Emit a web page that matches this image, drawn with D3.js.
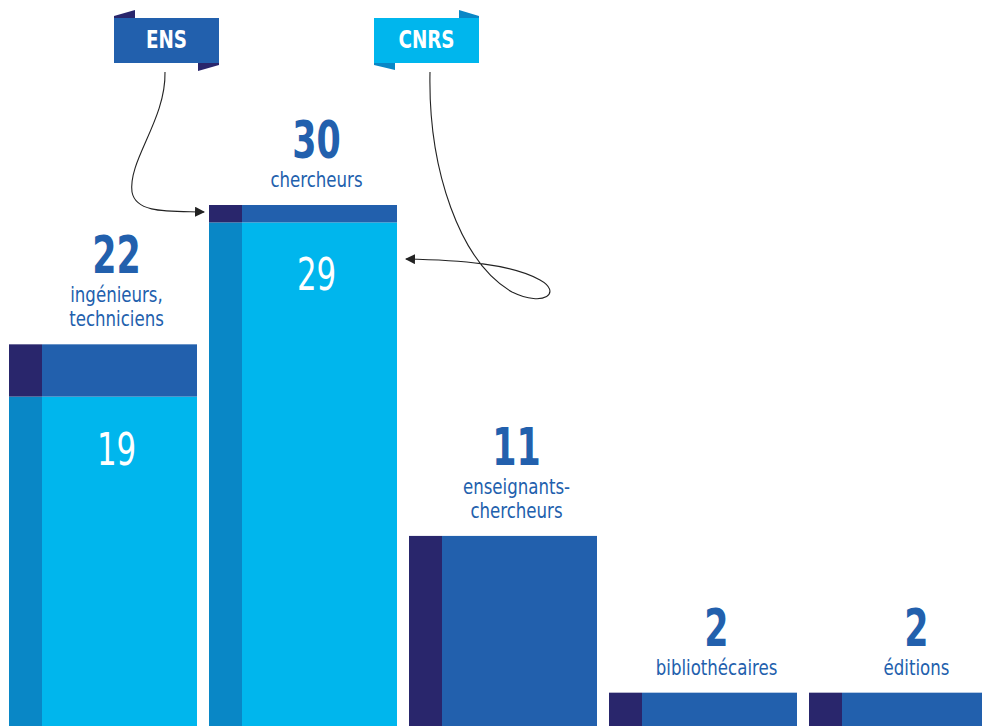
<!DOCTYPE html>
<html><head><meta charset="utf-8">
<script src="https://cdn.jsdelivr.net/npm/d3@7/dist/d3.min.js"></script>
<style>
html,body{margin:0;padding:0;background:#fff;overflow:hidden}
svg{display:block}
text{font-family:"DejaVu Sans Condensed","DejaVu Sans","Noto Sans",sans-serif}
</style></head>
<body>
<script>
const categories = ["ingenieurs", "chercheurs", "enseignants", "bibliothecaires", "editions"];
const labelLines = [["ingénieurs,", "techniciens"], ["chercheurs"], ["enseignants-", "chercheurs"], ["bibliothécaires"], ["éditions"]];
const ensValues = [3, 1, 11, 2, 2];
const cnrsValues = [19, 29, 0, 0, 0];
const seriesNames = ["ENS", "CNRS"];

const W = 982, H = 726;
const C = {
  ensMain: "#2260ad", ensDark: "#29266c",
  cnrsMain: "#00b6ed", cnrsDark: "#0987c6",
  label: "#2260ad"
};

const svg = d3.select("body").append("svg").attr("width", W).attr("height", H);

const x = d3.scaleBand().domain(categories).range([9, 997]).paddingInner(0.06).paddingOuter(0);
const y = d3.scaleLinear().domain([0, 30]).range([727.5, 205]);
const strip = 33;

const data = categories.map((c, i) => ({
  cat: c, lines: labelLines[i], ens: ensValues[i], cnrs: cnrsValues[i], total: ensValues[i] + cnrsValues[i]
}));

function txt(parent, tx, ty, sx, str) {
  return parent.append("text").attr("transform", `translate(${tx},${ty}) scale(${sx},1)`)
    .attr("text-anchor", "middle").text(str);
}

const g = svg.append("g");
data.forEach(d => {
  const x0 = x(d.cat), bw = x.bandwidth();
  if (d.cnrs > 0) {
    g.append("rect").attr("x", x0).attr("y", y(d.cnrs)).attr("width", strip).attr("height", y(0) - y(d.cnrs)).attr("fill", C.cnrsDark);
    g.append("rect").attr("x", x0 + strip).attr("y", y(d.cnrs)).attr("width", bw - strip).attr("height", y(0) - y(d.cnrs)).attr("fill", C.cnrsMain);
  }
  g.append("rect").attr("x", x0).attr("y", y(d.total)).attr("width", strip).attr("height", y(d.cnrs) - y(d.total)).attr("fill", C.ensDark);
  g.append("rect").attr("x", x0 + strip).attr("y", y(d.total)).attr("width", bw - strip).attr("height", y(d.cnrs) - y(d.total)).attr("fill", C.ensMain);

  const cx = x0 + strip + (bw - strip) / 2 - 3;
  if (d.cnrs > 0) {
    txt(g, cx, y(d.cnrs) + 68, 0.78, d.cnrs).attr("fill", "#fff").attr("font-size", 44).attr("font-weight", 400);
  }
  const top = y(d.total);
  const n = d.lines.length;
  d.lines.forEach((l, j) => {
    txt(g, cx, top - 18 - (n - 1 - j) * 24, 0.84, l).attr("fill", C.label).attr("font-size", 22);
  });
  txt(g, cx, top - 18 - (n - 1) * 24 - 29, 0.76, d.total)
    .attr("fill", C.label).attr("font-size", 51).attr("font-weight", 700);
});

// Legend flags
function flag(name, x0, main, dark, foldTopRight) {
  const lg = svg.append("g");
  const w = 105, h = 45, y0 = 18;
  if (foldTopRight) {
    lg.append("path").attr("d", `M${x0 + w - 20},10 L${x0 + w},16 L${x0 + w},${y0} L${x0 + w - 20},${y0} Z`).attr("fill", dark);
    lg.append("path").attr("d", `M${x0},${y0 + h} L${x0 + 21},${y0 + h} L${x0 + 21},${y0 + h + 7} L${x0},${y0 + h + 2} Z`).attr("fill", dark);
  } else {
    lg.append("path").attr("d", `M${x0},16 L${x0 + 21},10 L${x0 + 21},${y0} L${x0},${y0} Z`).attr("fill", dark);
    lg.append("path").attr("d", `M${x0 + w - 21},${y0 + h} L${x0 + w},${y0 + h} L${x0 + w},${y0 + h + 2} L${x0 + w - 21},${y0 + h + 8} Z`).attr("fill", dark);
  }
  lg.append("rect").attr("x", x0).attr("y", y0).attr("width", w).attr("height", h).attr("fill", main);
  txt(lg, x0 + w / 2, 48, 0.85, name).attr("fill", "#fff").attr("font-size", 24).attr("font-weight", 700);
}
flag(seriesNames[0], 114, C.ensMain, C.ensDark, false);
flag(seriesNames[1], 374, C.cnrsMain, C.cnrsDark, true);

// arrows
const defs = svg.append("defs");
defs.append("marker").attr("id", "ah").attr("viewBox", "0 0 10 10").attr("refX", 9).attr("refY", 5)
  .attr("markerWidth", 10).attr("markerHeight", 10).attr("markerUnits", "userSpaceOnUse").attr("orient", "auto")
  .append("path").attr("d", "M0,0 L10,5 L0,10 Z").attr("fill", "#222");

const ensArrowEnd = [x(categories[1]) - 5, y(ensValues[1] + cnrsValues[1]) + 7];
svg.append("path")
  .attr("d", `M165,72 C166,120 128,160 132,192 C136,214 170,211 ${ensArrowEnd[0]},${ensArrowEnd[1]}`)
  .attr("fill", "none").attr("stroke", "#222").attr("stroke-width", 1.1).attr("marker-end", "url(#ah)");

const cnrsArrowEnd = [x(categories[1]) + x.bandwidth() + 9, 259];
svg.append("path")
  .attr("d", `M430,72 C428,170 460,262 512,292 C545,308 562,292 540,280 C512,264 460,260 ${cnrsArrowEnd[0]},${cnrsArrowEnd[1]}`)
  .attr("fill", "none").attr("stroke", "#222").attr("stroke-width", 1.1).attr("marker-end", "url(#ah)");
</script>
</body></html>
